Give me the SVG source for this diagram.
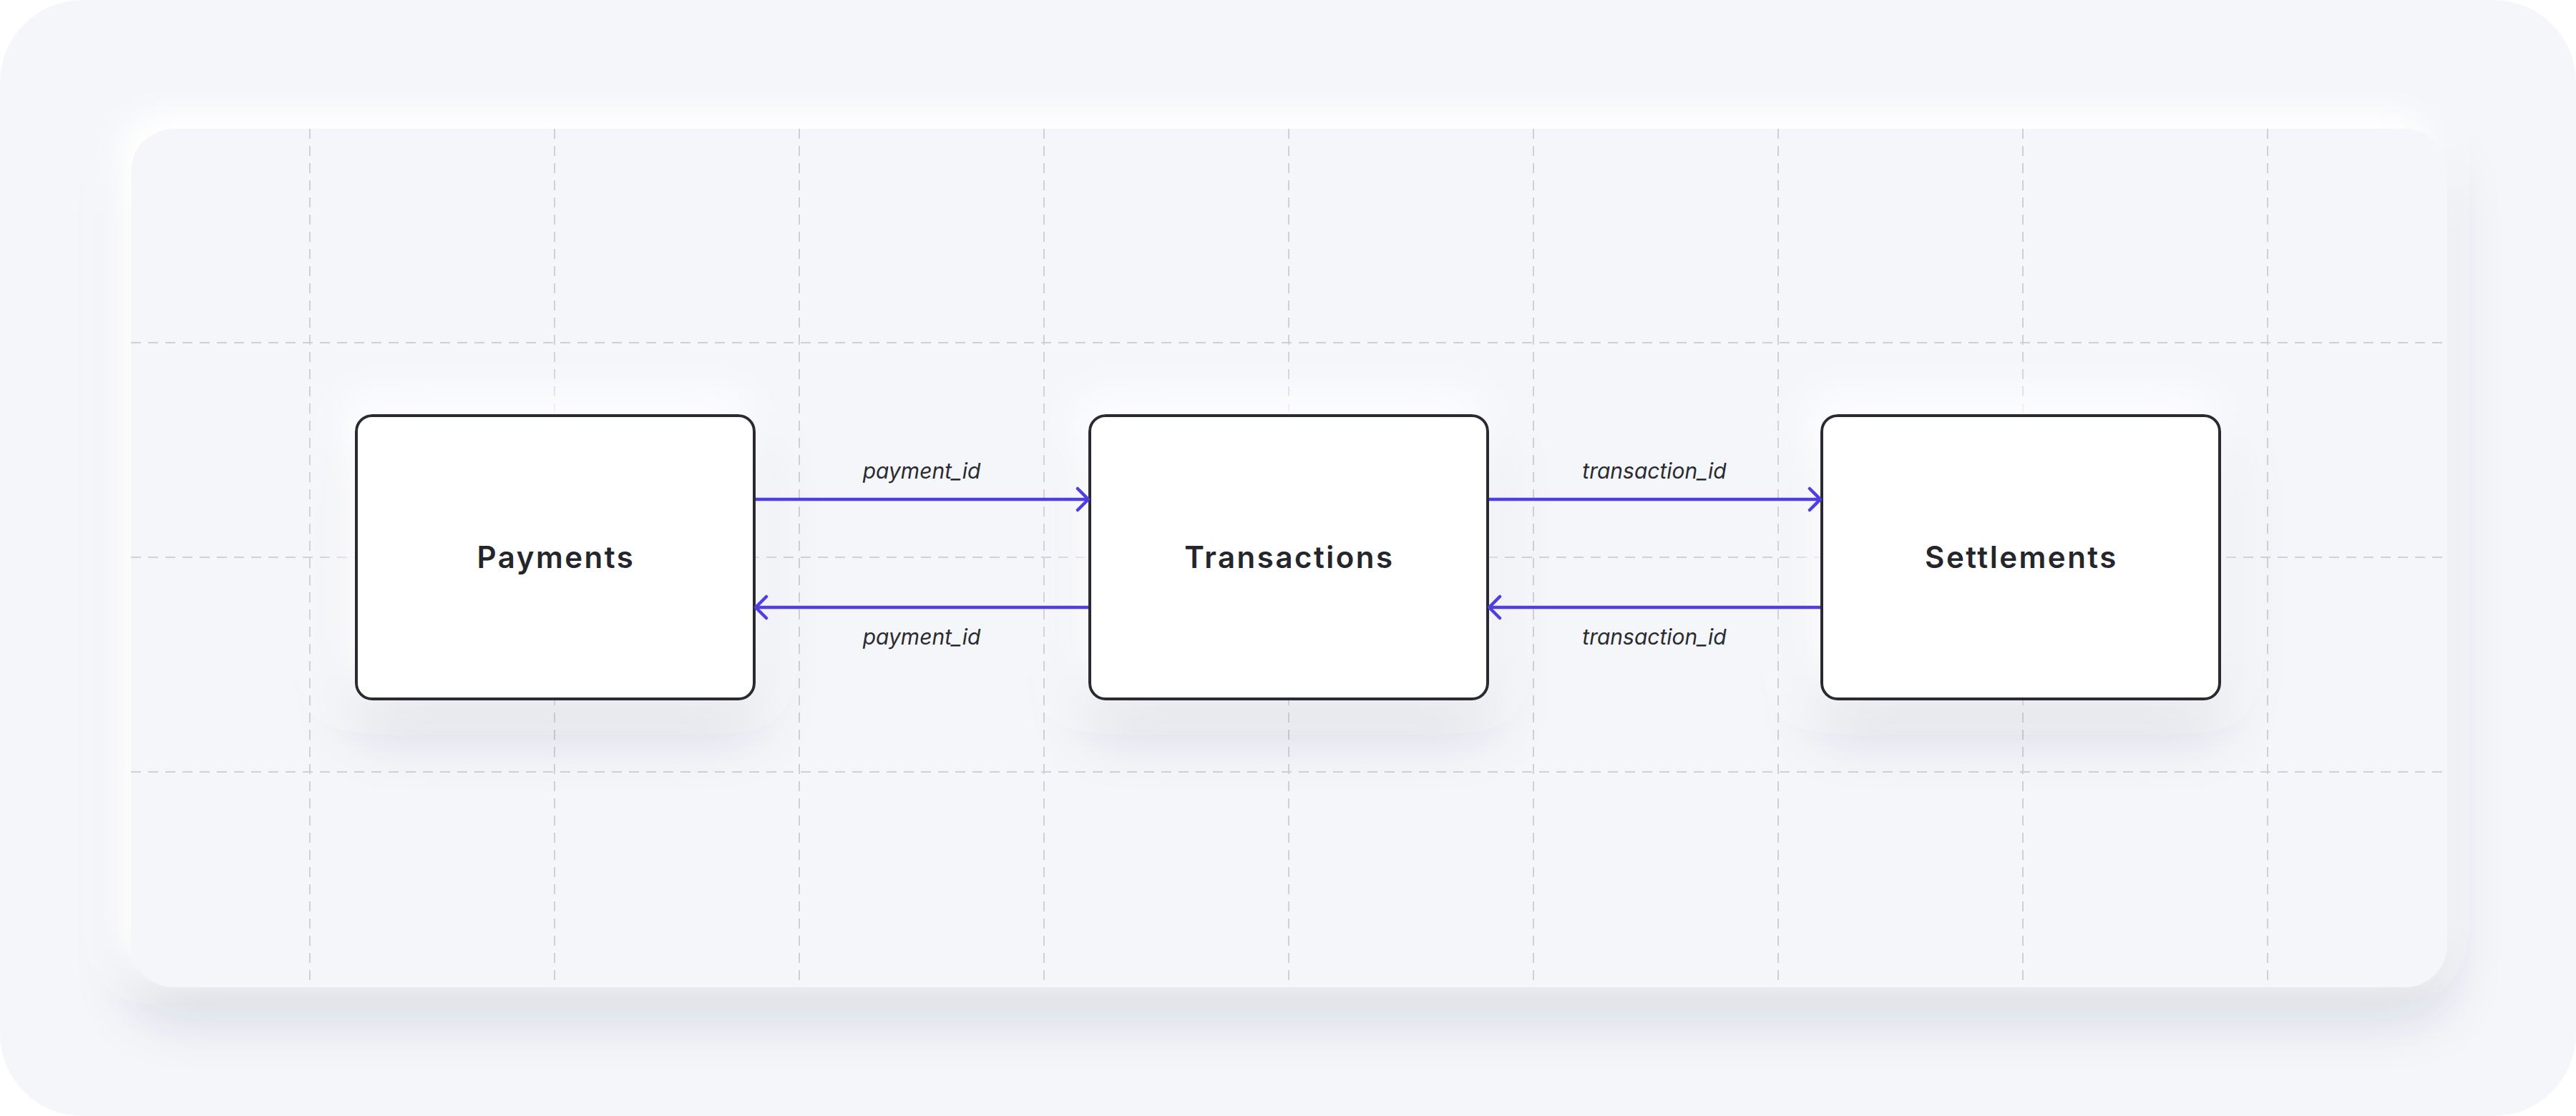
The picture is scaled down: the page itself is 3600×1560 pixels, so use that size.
<svg xmlns="http://www.w3.org/2000/svg" width="3600" height="1560" viewBox="0 0 3600 1560">
  <defs>
    <style>
      .grid { stroke: #cfd1d8; stroke-width: 2; stroke-dasharray: 14 10; fill: none; }
      .node { fill: #ffffff; stroke: #2a2b31; stroke-width: 4; }
      .title { font-family: Inter, "Liberation Sans", sans-serif; font-weight: 600; font-size: 42px; letter-spacing: 2.5px; fill: #25262b; text-anchor: middle; }
      .lbl { font-family: Inter, "Liberation Sans", sans-serif; font-style: italic; font-size: 30px; fill: #2a2b31; text-anchor: middle; }
      .edge { stroke: #4f3ee0; stroke-width: 4.5; fill: none; }
    </style>
    <marker id="arrow" viewBox="0 0 20 40" refX="18" refY="20" markerWidth="20" markerHeight="40" markerUnits="userSpaceOnUse" orient="auto">
      <path d="M3,5 L18,20 L3,35" fill="none" stroke="#4f3ee0" stroke-width="4.5" stroke-linecap="round" stroke-linejoin="round"/>
    </marker>
    <filter id="panelShadow" x="-10%" y="-20%" width="120%" height="145%">
      <feGaussianBlur in="SourceAlpha" stdDeviation="38" result="b1"/>
      <feOffset in="b1" dx="0" dy="40" result="o1"/>
      <feFlood flood-color="#2a3050" flood-opacity="0.15"/>
      <feComposite in2="o1" operator="in" result="dark"/>
      <feGaussianBlur in="SourceAlpha" stdDeviation="20" result="b2"/>
      <feOffset in="b2" dx="-18" dy="-22" result="o2"/>
      <feFlood flood-color="#ffffff" flood-opacity="1"/>
      <feComposite in2="o2" operator="in" result="light"/>
      <feMerge>
        <feMergeNode in="dark"/>
        <feMergeNode in="light"/>
        <feMergeNode in="SourceGraphic"/>
      </feMerge>
    </filter>
    <filter id="nodeShadow" x="-40%" y="-40%" width="180%" height="190%">
      <feGaussianBlur in="SourceAlpha" stdDeviation="42" result="b1"/>
      <feOffset in="b1" dx="0" dy="40" result="o1"/>
      <feFlood flood-color="#2a3050" flood-opacity="0.15"/>
      <feComposite in2="o1" operator="in" result="dark"/>
      <feGaussianBlur in="SourceAlpha" stdDeviation="30" result="b2"/>
      <feOffset in="b2" dx="-12" dy="-24" result="o2"/>
      <feFlood flood-color="#ffffff" flood-opacity="1"/>
      <feComposite in2="o2" operator="in" result="light"/>
      <feMerge>
        <feMergeNode in="dark"/>
        <feMergeNode in="light"/>
        <feMergeNode in="SourceGraphic"/>
      </feMerge>
    </filter>
    <clipPath id="panelClip">
      <rect x="183" y="180" width="3237" height="1200" rx="60"/>
    </clipPath>
  </defs>

  <rect x="0" y="0" width="3600" height="1560" fill="#ffffff"/>
  <rect id="background" x="0" y="0" width="3600" height="1560" rx="115" fill="#f5f6fa"/>

  <g id="panel">
    <rect x="183" y="180" width="3237" height="1200" rx="60" fill="#f5f6fa" filter="url(#panelShadow)"/>
  </g>

  <g id="grid" clip-path="url(#panelClip)">
    <line class="grid" x1="433" y1="180" x2="433" y2="1380"/>
    <line class="grid" x1="775" y1="180" x2="775" y2="1380"/>
    <line class="grid" x1="1117" y1="180" x2="1117" y2="1380"/>
    <line class="grid" x1="1459" y1="180" x2="1459" y2="1380"/>
    <line class="grid" x1="1801" y1="180" x2="1801" y2="1380"/>
    <line class="grid" x1="2143" y1="180" x2="2143" y2="1380"/>
    <line class="grid" x1="2485" y1="180" x2="2485" y2="1380"/>
    <line class="grid" x1="2827" y1="180" x2="2827" y2="1380"/>
    <line class="grid" x1="3169" y1="180" x2="3169" y2="1380"/>
    <line class="grid" x1="183" y1="479" x2="3420" y2="479"/>
    <line class="grid" x1="183" y1="779" x2="3420" y2="779"/>
    <line class="grid" x1="183" y1="1079" x2="3420" y2="1079"/>
  </g>

  <g id="node-payments">
    <rect class="node" x="498" y="581" width="556" height="396" rx="22" filter="url(#nodeShadow)"/>
    <text class="title" x="777" y="794">Payments</text>
  </g>
  <g id="node-transactions">
    <rect class="node" x="1523" y="581" width="556" height="396" rx="22" filter="url(#nodeShadow)"/>
    <text class="title" x="1802" y="794">Transactions</text>
  </g>
  <g id="node-settlements">
    <rect class="node" x="2546" y="581" width="556" height="396" rx="22" filter="url(#nodeShadow)"/>
    <text class="title" x="2825" y="794">Settlements</text>
  </g>

  <g id="connectors">
    <line class="edge" x1="1056" y1="698" x2="1521" y2="698" marker-end="url(#arrow)"/>
    <text class="lbl" x="1288" y="669">payment_id</text>
    <line class="edge" x1="1521" y1="849" x2="1056" y2="849" marker-end="url(#arrow)"/>
    <text class="lbl" x="1288" y="901">payment_id</text>
    <line class="edge" x1="2081" y1="698" x2="2544" y2="698" marker-end="url(#arrow)"/>
    <text class="lbl" x="2312" y="669">transaction_id</text>
    <line class="edge" x1="2544" y1="849" x2="2081" y2="849" marker-end="url(#arrow)"/>
    <text class="lbl" x="2312" y="901">transaction_id</text>
  </g>
</svg>
